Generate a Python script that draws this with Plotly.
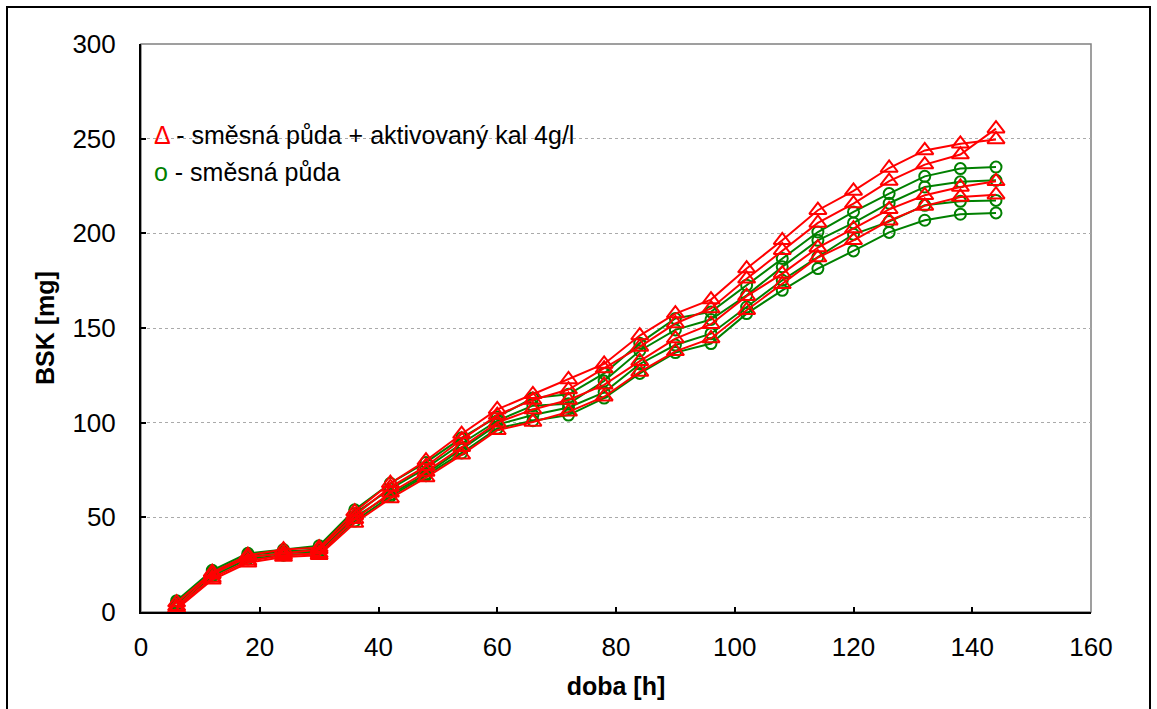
import plotly.graph_objects as go

# time [h]
doba = [6, 12, 18, 24, 30, 36, 42, 48, 54, 60, 66, 72, 78, 84, 90, 96,
        102, 108, 114, 120, 126, 132, 138, 144]

# směsná půda + aktivovaný kal 4g/l (red triangles)
red_1 = [5, 21, 30, 33, 34, 53, 68, 80, 94, 107, 115, 122.8, 131, 146, 157.6, 165,
         181.4, 196.3, 212.2, 222.4, 234.5, 243.8, 247.3, 249.6]
red_2 = [3, 20, 29, 31, 33, 51, 66, 77, 91, 104, 112, 117.5, 128.6, 140, 152.4, 160.3,
         176, 191, 205.5, 215.7, 227.6, 236.3, 241.6, 255.3]
red_3 = [2, 18, 27, 30, 31, 49, 63, 74, 87, 100, 107, 112, 120, 132.5, 144.4, 152,
         166.8, 178.7, 192.5, 202.5, 212.7, 220.1, 224.5, 227.5]
red_4 = [1.5, 17, 26, 29, 30, 47, 60, 71, 83, 96, 100.4, 105.7, 113.7, 126.8, 137.7, 144.5,
         159.4, 173.1, 187.2, 196.3, 206.7, 214.5, 219.2, 220.4]

# směsná půda (green circles)
green_1 = [6, 22, 31, 33, 35, 54, 68, 79, 92, 103, 113, 115, 126, 142, 155, 158.5,
           172.6, 186.7, 200.7, 211.3, 221, 230.1, 234.2, 235]
green_2 = [5, 21, 30, 32, 33, 52, 65, 76, 89, 101, 109, 110, 122, 138, 149, 154.5,
           167.3, 182.3, 196.3, 205.5, 215.9, 224.5, 227.2, 228]
green_3 = [4, 20, 29, 31, 32, 50, 62, 73, 86, 99, 104, 108, 116, 131, 141, 147,
           161.1, 175.2, 187.5, 199.5, 206.2, 214.8, 216.9, 217.4]
green_4 = [3, 19, 28, 30, 31, 48, 61, 72, 84, 97, 101, 104, 113, 126, 137, 141.8,
           157.6, 169.9, 181.4, 190.7, 200.5, 206.9, 210.1, 210.8]

x_ticks = [0, 20, 40, 60, 80, 100, 120, 140, 160]
y_ticks = [0, 50, 100, 150, 200, 250, 300]

RED = "#FF0000"
GREEN = "#008000"

fig = go.Figure()
for ys in [green_1, green_2, green_3, green_4]:
    fig.add_trace(go.Scatter(
        x=doba, y=ys, mode="lines+markers",
        line=dict(color=GREEN, width=2),
        marker=dict(symbol="circle-open", size=11, color=GREEN, line=dict(width=2)),
        showlegend=False, hoverinfo="x+y"))
for ys in [red_1, red_2, red_3, red_4]:
    fig.add_trace(go.Scatter(
        x=doba, y=ys, mode="lines+markers",
        line=dict(color=RED, width=2),
        marker=dict(symbol="triangle-up-open", size=15, color=RED, line=dict(width=2)),
        showlegend=False, hoverinfo="x+y"))

FONT = "Liberation Sans, Arial, sans-serif"

fig.update_layout(
    width=1157, height=709,
    margin=dict(l=141, r=66, t=44, b=97),
    paper_bgcolor="white", plot_bgcolor="white",
    font=dict(family=FONT, color="black", size=26),
    xaxis=dict(
        range=[0, 160], tickvals=x_ticks, ticks="inside", ticklen=5, tickwidth=2,
        tickcolor="black", showline=True, linecolor="black", linewidth=2,
        showgrid=False, zeroline=False, tickfont=dict(size=26),
        ticklabelstandoff=11,
        title=dict(text="<b>doba [h]</b>", font=dict(size=25), standoff=16),
    ),
    yaxis=dict(
        range=[0, 300], tickvals=y_ticks, ticks="inside", ticklen=5, tickwidth=2,
        tickcolor="black", showline=True, linecolor="black", linewidth=2,
        showgrid=True, gridcolor="#AAAAAA", griddash="dot", gridwidth=1,
        zeroline=False, tickfont=dict(size=26),
        ticklabelstandoff=18,
        title=dict(text="<b>BSK [mg]</b>", font=dict(size=25), standoff=11),
    ),
    shapes=[
        # plot area border (grey)
        dict(type="rect", xref="paper", yref="paper", x0=0, y0=0, x1=1, y1=1,
             line=dict(color="#808080", width=1.5), layer="below"),
        # chart area border (black)
        dict(type="rect", xref="paper", yref="paper",
             x0=(7 - 141) / 950, x1=(1150 - 141) / 950,
             y0=(612 - 714) / 568, y1=(612 - 7) / 568,
             line=dict(color="black", width=2)),
    ],
    annotations=[
        dict(xref="paper", yref="paper", x=(152 - 141) / 950, y=(612 - 135) / 568,
             xanchor="left", yanchor="middle", showarrow=False,
             text=f"<span style='color:{RED}'>Δ</span> - směsná půda + aktivovaný kal 4g/l",
             font=dict(size=25, family=FONT, color="black")),
        dict(xref="paper", yref="paper", x=(152 - 141) / 950, y=(612 - 172) / 568,
             xanchor="left", yanchor="middle", showarrow=False,
             text=f"<span style='color:{GREEN}'>o</span> - směsná půda",
             font=dict(size=25, family=FONT, color="black")),
    ],
)

fig.write_html("out.html")
